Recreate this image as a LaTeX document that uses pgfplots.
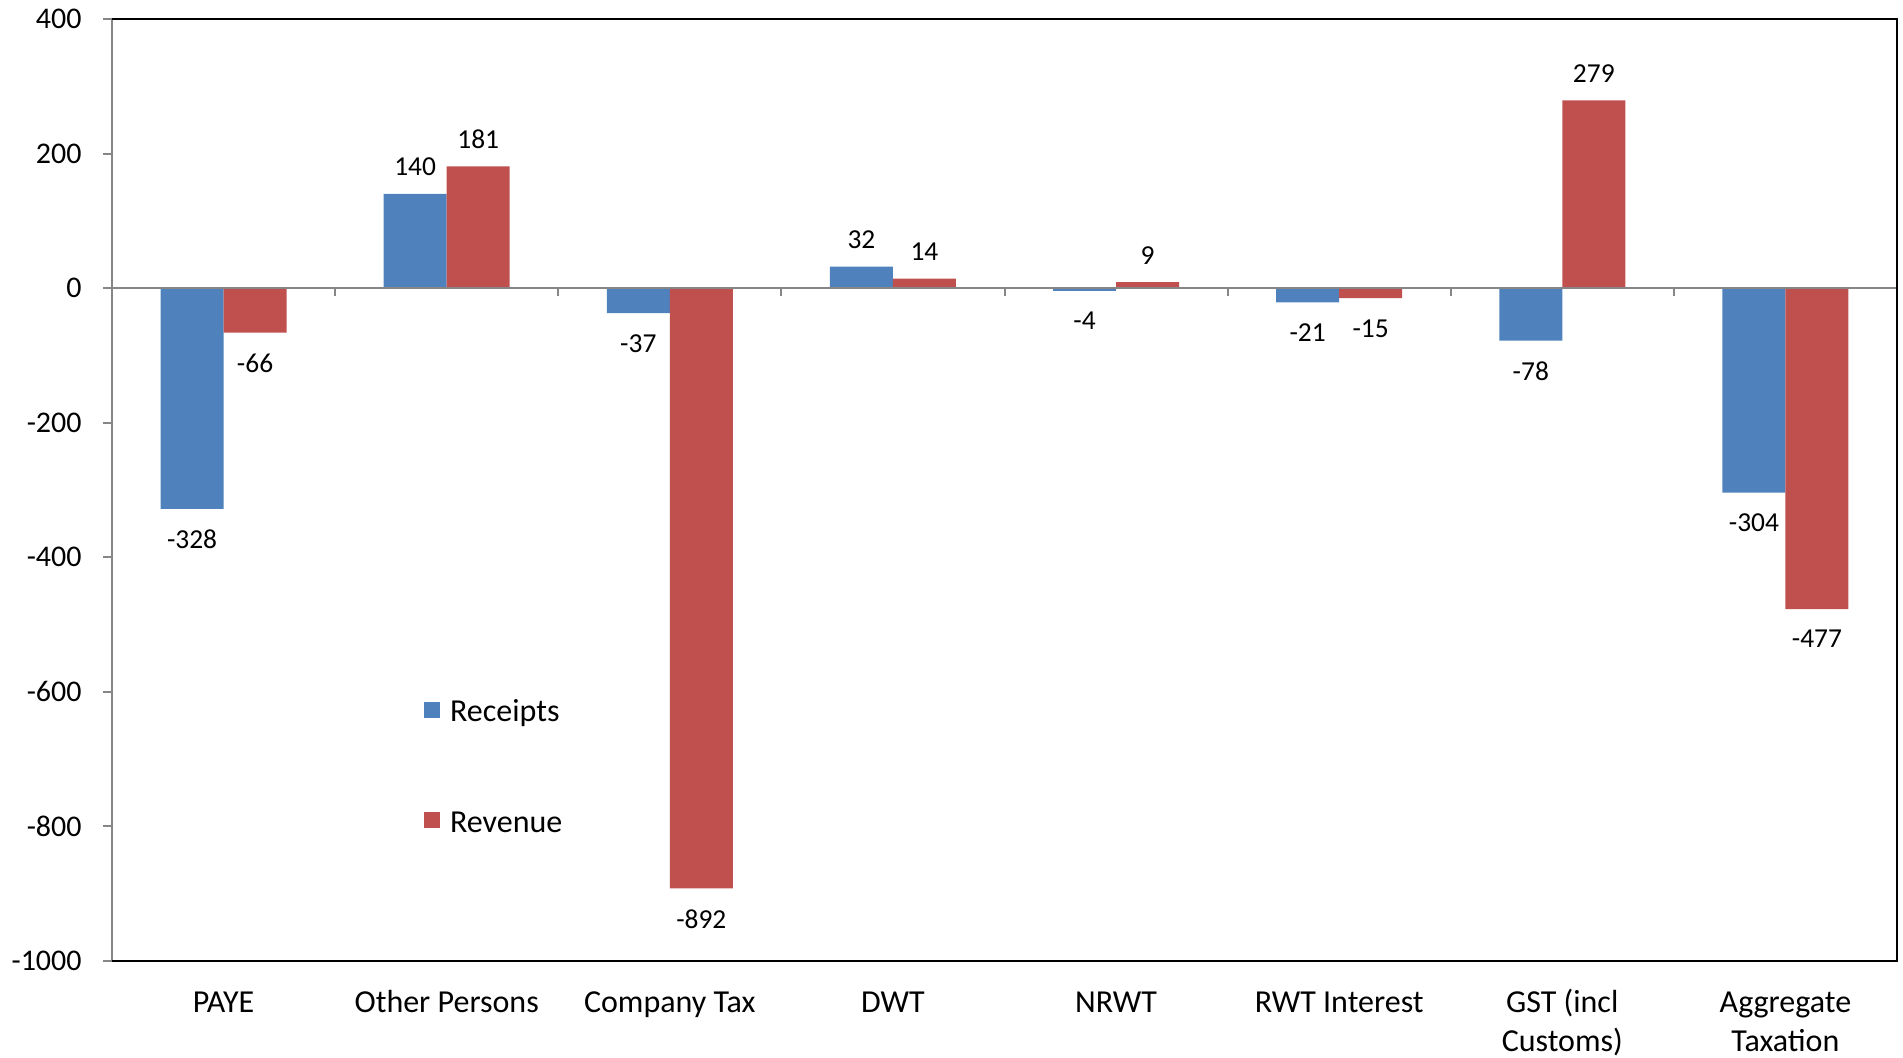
\documentclass[border=0pt]{standalone}
\usepackage{pgfplots}
\pgfplotsset{compat=1.18}
\usepackage{fontspec}
\setmainfont{Carlito}
\definecolor{rec}{HTML}{4F81BD}
\definecolor{rev}{HTML}{C0504D}
\definecolor{axgray}{HTML}{868686}
\newcommand\xs{\rule{0pt}{13bp}}
\begin{document}
\begin{tikzpicture}
\useasboundingbox (0,0) rectangle (951.5bp,529bp);
\begin{axis}[
  at={(56bp,48.5bp)}, anchor=south west,
  scale only axis, width=892.5bp, height=471bp,
  xmin=-0.5, xmax=7.5, ymin=-1000, ymax=400,
  clip=false,
  ybar=0pt, bar width=31.5bp,
  axis line style={draw=none},
  xtick={0,...,7},
  xticklabels={{\xs PAYE}, {\xs Other Persons}, {\xs Company Tax}, {\xs DWT}, {\xs NRWT}, {\xs RWT Interest}, {\xs GST (incl\\Customs)}, {\xs Aggregate\\Taxation}},
  xtick style={draw=none},
  major tick length=4.5bp,
  tick align=outside,
  ytick={-1000,-800,-600,-400,-200,0,200,400},
  ytick pos=left, xtick pos=bottom,
  ytick style={axgray, line width=1bp},
  /pgf/number format/assume math mode=true,
  /pgf/number format/1000 sep={},
  yticklabel style={font=\fontsize{15bp}{18bp}\selectfont, inner sep=0pt, anchor=east, xshift=-10.5bp},
  xticklabel style={font=\fontsize{16bp}{19.5bp}\selectfont, inner sep=0pt, anchor=north, align=center, yshift=-8bp},
  nodes near coords={\pgfmathprintnumber[assume math mode=true,1000 sep={}]{\pgfplotspointmeta}},
  nodes near coords align={vertical},
  every node near coord/.append style={font=\fontsize{13.7bp}{16bp}\selectfont, black, inner ysep=9.6bp, inner xsep=0pt, yshift=-0.8bp},
  legend style={draw=none, fill=none, inner sep=0pt, at={(rel axis cs:0.1746,0.2035)}, anchor=west, row sep=41.3bp, font=\fontsize{16bp}{19bp}\selectfont, nodes={inner sep=0pt, text height=11bp, text depth=3bp}},
  legend cell align=left,
  legend image code/.code={\fill[#1] (0bp,-1.85bp) rectangle (8bp,6.15bp); \path (13bp,0bp);},
]
\addplot[fill=rec, draw=none] coordinates {(0,-328) (1,140) (2,-37) (3,32) (4,-4) (5,-21) (6,-78) (7,-304)};
\addplot[fill=rev, draw=none] coordinates {(0,-66) (1,181) (2,-892) (3,14) (4,9) (5,-15) (6,279) (7,-477)};
\legend{Receipts, Revenue}
\draw[axgray, line width=1bp] (axis cs:-0.5,0) -- (axis cs:7.5,0);
\draw[axgray, line width=1bp] (axis cs:0.5,0) -- ([yshift=-4bp]axis cs:0.5,0);
\draw[axgray, line width=1bp] (axis cs:1.5,0) -- ([yshift=-4bp]axis cs:1.5,0);
\draw[axgray, line width=1bp] (axis cs:2.5,0) -- ([yshift=-4bp]axis cs:2.5,0);
\draw[axgray, line width=1bp] (axis cs:3.5,0) -- ([yshift=-4bp]axis cs:3.5,0);
\draw[axgray, line width=1bp] (axis cs:4.5,0) -- ([yshift=-4bp]axis cs:4.5,0);
\draw[axgray, line width=1bp] (axis cs:5.5,0) -- ([yshift=-4bp]axis cs:5.5,0);
\draw[axgray, line width=1bp] (axis cs:6.5,0) -- ([yshift=-4bp]axis cs:6.5,0);
\draw[axgray, line width=1bp] (rel axis cs:0,0) -- (rel axis cs:0,1);
\draw[black, line width=1bp] (rel axis cs:0,1) -- (rel axis cs:1,1) -- (rel axis cs:1,0) -- (rel axis cs:0,0);
\end{axis}
\end{tikzpicture}
\end{document}
